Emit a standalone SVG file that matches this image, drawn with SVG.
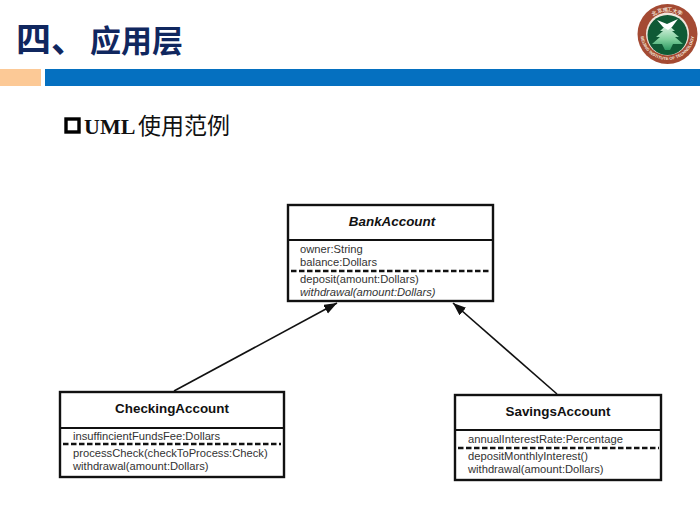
<svg xmlns="http://www.w3.org/2000/svg" width="700" height="523" viewBox="0 0 700 523">
<style>
.box{fill:#fff;stroke:#111;stroke-width:2.4}
.sep{stroke:#111;stroke-width:2;fill:none}
.dash{stroke:#111;stroke-width:2.4;stroke-dasharray:5.5 2.5;fill:none}
.t{font-family:"Liberation Sans",Arial,sans-serif;fill:#333;font-size:11.2px}
.h{font-family:"Liberation Sans",Arial,sans-serif;fill:#111;font-size:13.4px;font-weight:bold;text-anchor:middle}
.i{font-style:italic}
.conn{stroke:#111;stroke-width:1.6;fill:none;marker-end:url(#arr)}
.lg{fill:#f3e6da;font-family:"Liberation Sans",Arial,sans-serif;font-size:4.2px;font-weight:bold}
</style>
<defs>
<marker id="arr" markerUnits="userSpaceOnUse" markerWidth="14" markerHeight="12" refX="13" refY="5" orient="auto"><path d="M0 0L13 5L0 10Z" fill="#111"/></marker>
<linearGradient id="tree" x1="0" y1="0" x2="0" y2="1"><stop offset="0" stop-color="#e6f6ea"/><stop offset="0.6" stop-color="#7fcf9c"/><stop offset="1" stop-color="#2f9a63"/></linearGradient>
<path id="lgTop" d="M643.5 35.5A24 24 0 0 1 691.5 35.5"/>
<path id="lgBot" d="M640.5 33A27 27 0 0 0 694.5 33"/>
</defs>
<rect width="700" height="523" fill="#fff"/>
<g id="header">
<text x="16" y="52" font-family="'Noto Sans CJK SC',sans-serif" font-weight="bold" font-size="35" fill="#10275f">四、</text>
<text x="90" y="52" font-family="'Noto Sans CJK SC',sans-serif" font-weight="bold" font-size="31" fill="#10275f">应用层</text>
<rect x="0" y="69" width="41" height="17" fill="#fcc996"/>
<rect x="45" y="69" width="655" height="17" fill="#0570c0"/>
<rect x="66" y="119" width="13" height="13" fill="none" stroke="#000" stroke-width="3.4"/>
<text x="84" y="134" font-family="'Liberation Serif',serif" font-weight="bold" font-size="22" fill="#111">UML</text>
<text x="138" y="134" font-family="'Noto Sans CJK SC',sans-serif" font-size="23" fill="#111">使用范例</text>
</g>
<g id="logo">
<circle cx="667.5" cy="34" r="30" fill="#a44a33"/>
<circle cx="667.5" cy="34" r="21.5" fill="#f0e6dc"/>
<circle cx="667.5" cy="35" r="20" fill="#0f5a35"/>
<path d="M667.5 24L660 31L663 31L656 37L660 37L652 44L662 44L665 50L670 50L673 44L683 44L675 37L679 37L672 31L675 31Z" fill="url(#tree)"/>
<path d="M657 20L667 24L678 19L672 27L668 30L663 27Z" fill="#fff"/>
<text class="lg" font-size="5" style="font-size:5px"><textPath href="#lgTop" startOffset="50%" text-anchor="middle">北京理工大学</textPath></text>
<text class="lg"><textPath href="#lgBot" startOffset="50%" text-anchor="middle">BEIJING INSTITUTE OF TECHNOLOGY</textPath></text>
</g>
<g id="connectors">
<path class="conn" d="M174 391L337 303"/>
<path class="conn" d="M557 394L453 303"/>
</g>
<g id="BankAccount">
<rect class="box" x="288" y="205" width="205" height="96"/>
<path class="sep" d="M288 240H493"/>
<path class="dash" d="M291 271H491"/>
<text class="h i" x="392" y="226">BankAccount</text>
<text class="t" x="300" y="253">owner:String</text>
<text class="t" x="300" y="266">balance:Dollars</text>
<text class="t" x="300" y="283">deposit(amount:Dollars)</text>
<text class="t i" x="300" y="296">withdrawal(amount:Dollars)</text>
</g>
<g id="CheckingAccount">
<rect class="box" x="60" y="392" width="224" height="85"/>
<path class="sep" d="M60 428H284"/>
<path class="dash" d="M63 444H281"/>
<text class="h" x="172" y="413">CheckingAccount</text>
<text class="t" x="73" y="440">insuffincientFundsFee:Dollars</text>
<text class="t" x="73" y="457">processCheck(checkToProcess:Check)</text>
<text class="t" x="73" y="470">withdrawal(amount:Dollars)</text>
</g>
<g id="SavingsAccount">
<rect class="box" x="455" y="395" width="206" height="85"/>
<path class="sep" d="M455 430H661"/>
<path class="dash" d="M458 448H659"/>
<text class="h" x="558" y="416">SavingsAccount</text>
<text class="t" x="468" y="443">annualInterestRate:Percentage</text>
<text class="t" x="468" y="460">depositMonthlyInterest()</text>
<text class="t" x="468" y="473">withdrawal(amount:Dollars)</text>
</g>
</svg>
